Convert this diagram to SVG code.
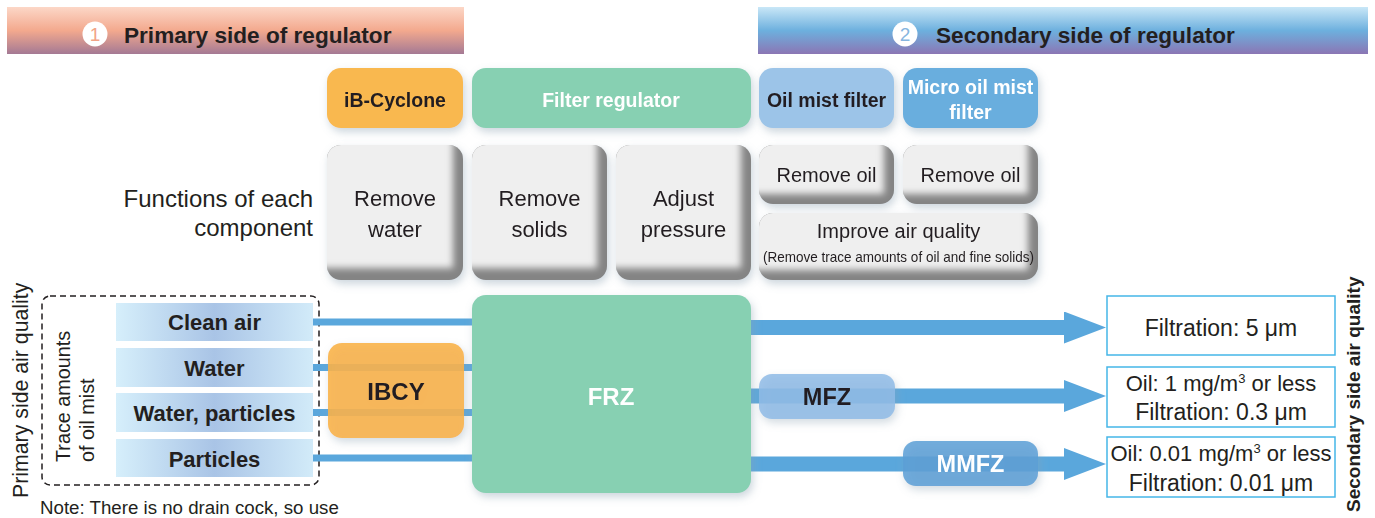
<svg xmlns="http://www.w3.org/2000/svg" width="1375" height="518" viewBox="0 0 1375 518">
<defs>
<style>
text{font-family:"Liberation Sans",Arial,Helvetica,sans-serif;fill:#231f20}
.b{font-weight:bold}
.w{fill:#ffffff}
.c{text-anchor:middle}
.hd{font-size:22.6px;font-weight:bold}
.top{font-size:19.5px;font-weight:bold;text-anchor:middle}
.fn{font-size:22px;text-anchor:middle}
.fo{font-size:20px;text-anchor:middle}
.row{font-size:22px;font-weight:bold;text-anchor:middle}
.big{font-size:24px;font-weight:bold;text-anchor:middle}
.res{font-size:22px;text-anchor:middle}
.res2{font-size:23px;text-anchor:middle}
.lane{stroke:#5aa7dc;stroke-width:7;fill:none}
.arr{stroke:#5aa7dc;stroke-width:15;fill:none;marker-end:url(#ah)}
.rbox{fill:#ffffff;stroke:#45b6e8;stroke-width:1.5}
.dark{fill:#848484}
.light{fill:#efefef}
</style>
<linearGradient id="g1" x1="0" y1="0" x2="0" y2="1">
<stop offset="0" stop-color="#fcd7c7"/><stop offset="0.5" stop-color="#f3a98e"/><stop offset="1" stop-color="#a47994"/>
</linearGradient>
<linearGradient id="g2" x1="0" y1="0" x2="0" y2="1">
<stop offset="0" stop-color="#c9e7f7"/><stop offset="0.5" stop-color="#6db0de"/><stop offset="1" stop-color="#8b76b4"/>
</linearGradient>
<linearGradient id="gr" x1="0" y1="0" x2="1" y2="0">
<stop offset="0" stop-color="#d6effb"/><stop offset="0.5" stop-color="#a9c4e6"/><stop offset="1" stop-color="#d2ebf9"/>
</linearGradient>
<filter id="sh" x="-20%" y="-20%" width="140%" height="150%">
<feGaussianBlur in="SourceAlpha" stdDeviation="4"/><feOffset dx="2" dy="4" result="b"/>
<feFlood flood-color="#8ea3b3" flood-opacity="0.45"/><feComposite in2="b" operator="in"/>
<feMerge><feMergeNode/><feMergeNode in="SourceGraphic"/></feMerge>
</filter>
<filter id="bv" x="-20%" y="-20%" width="140%" height="140%"><feGaussianBlur stdDeviation="3.5"/></filter>
<clipPath id="c1"><rect x="327" y="145" width="136" height="135" rx="14"/></clipPath>
<clipPath id="c2"><rect x="472" y="145" width="135" height="135" rx="14"/></clipPath>
<clipPath id="c3"><rect x="616" y="145" width="135" height="135" rx="14"/></clipPath>
<clipPath id="c4"><rect x="759" y="145" width="135" height="59" rx="14"/></clipPath>
<clipPath id="c5"><rect x="903" y="145" width="135" height="59" rx="14"/></clipPath>
<clipPath id="c6"><rect x="759" y="213" width="279" height="67" rx="14"/></clipPath>
<marker id="ah" markerUnits="userSpaceOnUse" markerWidth="44" markerHeight="34" refX="0" refY="16" orient="auto">
<path d="M0,0 L42,16 L0,32 Z" fill="#5aa7dc"/>
</marker>
</defs>

<g id="header-primary">
<rect x="7" y="7" width="457" height="47" fill="url(#g1)"/>
<circle cx="95" cy="34" r="12.5" fill="#ffffff"/>
<text x="95" y="41" class="c" style="font-size:19px;fill:#f2a487">1</text>
<text x="124" y="43" class="hd">Primary side of regulator</text>
</g>
<g id="header-secondary">
<rect x="758" y="7" width="610" height="47" fill="url(#g2)"/>
<circle cx="905" cy="34" r="12.5" fill="#ffffff"/>
<text x="905" y="41" class="c" style="font-size:19px;fill:#86b6e0">2</text>
<text x="936" y="43" class="hd">Secondary side of regulator</text>
</g>

<g id="label-functions">
<text x="313" y="207" style="font-size:24px;text-anchor:end">Functions of each</text>
<text x="313" y="236" style="font-size:24px;text-anchor:end">component</text>
</g>

<g id="comp-ibcyclone" filter="url(#sh)">
<rect x="327" y="68" width="136" height="60" rx="14" fill="#f9b84f"/>
<text x="395" y="107" class="top">iB-Cyclone</text>
</g>
<g id="comp-filter-regulator" filter="url(#sh)">
<rect x="472" y="68" width="279" height="60" rx="14" fill="#87d0b2"/>
<text x="611" y="107" class="top w">Filter regulator</text>
</g>
<g id="comp-oil-mist-filter" filter="url(#sh)">
<rect x="759" y="68" width="135" height="60" rx="14" fill="#9cc4e8"/>
<text x="826.5" y="107" class="top">Oil mist filter</text>
</g>
<g id="comp-micro-oil-mist-filter" filter="url(#sh)">
<rect x="903" y="68" width="135" height="60" rx="14" fill="#69aede"/>
<text x="970.5" y="94" class="top w">Micro oil mist</text>
<text x="970.5" y="119" class="top w">filter</text>
</g>

<g id="fn-remove-water" filter="url(#sh)">
<g clip-path="url(#c1)"><rect x="327" y="145" width="136" height="135" class="dark"/><rect x="317" y="135" width="136" height="133" class="light" filter="url(#bv)"/></g>
<text x="395" y="206" class="fn">Remove</text>
<text x="395" y="237" class="fn">water</text>
</g>
<g id="fn-remove-solids" filter="url(#sh)">
<g clip-path="url(#c2)"><rect x="472" y="145" width="135" height="135" class="dark"/><rect x="462" y="135" width="135" height="133" class="light" filter="url(#bv)"/></g>
<text x="539.5" y="206" class="fn">Remove</text>
<text x="539.5" y="237" class="fn">solids</text>
</g>
<g id="fn-adjust-pressure" filter="url(#sh)">
<g clip-path="url(#c3)"><rect x="616" y="145" width="135" height="135" class="dark"/><rect x="606" y="135" width="135" height="133" class="light" filter="url(#bv)"/></g>
<text x="683.5" y="206" class="fn">Adjust</text>
<text x="683.5" y="237" class="fn">pressure</text>
</g>
<g id="fn-remove-oil-1" filter="url(#sh)">
<g clip-path="url(#c4)"><rect x="759" y="145" width="135" height="59" class="dark"/><rect x="749" y="135" width="135" height="59" class="light" filter="url(#bv)"/></g>
<text x="826.5" y="182" class="fo">Remove oil</text>
</g>
<g id="fn-remove-oil-2" filter="url(#sh)">
<g clip-path="url(#c5)"><rect x="903" y="145" width="135" height="59" class="dark"/><rect x="893" y="135" width="135" height="59" class="light" filter="url(#bv)"/></g>
<text x="970.5" y="182" class="fo">Remove oil</text>
</g>
<g id="fn-improve-air" filter="url(#sh)">
<g clip-path="url(#c6)"><rect x="759" y="213" width="279" height="67" class="dark"/><rect x="749" y="203" width="279" height="67" class="light" filter="url(#bv)"/></g>
<text x="898.5" y="238" class="fo">Improve air quality</text>
<text x="898.5" y="262" class="c" style="font-size:15px" textLength="271" lengthAdjust="spacingAndGlyphs">(Remove trace amounts of oil and fine solids)</text>
</g>

<g id="primary-quality">
<text transform="translate(28,498) rotate(-90)" style="font-size:21.3px">Primary side air quality</text>
<rect x="42" y="296" width="277" height="189" rx="8" fill="none" stroke="#231f20" stroke-width="1.5" stroke-dasharray="6 4"/>
<text transform="translate(70,462) rotate(-90)" style="font-size:19.8px">Trace amounts</text>
<text transform="translate(94,462) rotate(-90)" style="font-size:19.8px">of oil mist</text>
</g>
<g id="row-clean-air"><rect x="116" y="303" width="197" height="38" fill="url(#gr)"/><text x="214.5" y="330" class="row">Clean air</text></g>
<g id="row-water"><rect x="116" y="348" width="197" height="39" fill="url(#gr)"/><text x="214.5" y="376" class="row">Water</text></g>
<g id="row-water-particles"><rect x="116" y="393" width="197" height="39" fill="url(#gr)"/><text x="214.5" y="421" class="row">Water, particles</text></g>
<g id="row-particles"><rect x="116" y="439" width="197" height="38" fill="url(#gr)"/><text x="214.5" y="467" class="row">Particles</text></g>

<g id="connectors">
<line x1="313" y1="322" x2="472" y2="322" class="lane"/>
<line x1="313" y1="367.5" x2="472" y2="367.5" class="lane"/>
<line x1="313" y1="412.5" x2="472" y2="412.5" class="lane"/>
<line x1="313" y1="458" x2="472" y2="458" class="lane"/>
<line x1="750" y1="327.5" x2="1064" y2="327.5" class="arr"/>
<line x1="750" y1="396" x2="1064" y2="396" class="arr"/>
<line x1="750" y1="464" x2="1064" y2="464" class="arr"/>
</g>

<g id="node-ibcy" filter="url(#sh)">
<rect x="328" y="343" width="136" height="95" rx="14" fill="#f9b243" fill-opacity="0.88"/>
<text x="396" y="400" class="big">IBCY</text>
</g>
<g id="node-frz" filter="url(#sh)">
<rect x="472" y="295" width="279" height="198" rx="14" fill="#87d0b2"/>
<text x="611" y="405" class="big w">FRZ</text>
</g>
<g id="node-mfz" filter="url(#sh)">
<rect x="759" y="374" width="136" height="45" rx="13" fill="#8fbbe6" fill-opacity="0.85"/>
<text x="827" y="405" class="big" style="font-size:23.5px">MFZ</text>
</g>
<g id="node-mmfz" filter="url(#sh)">
<rect x="903" y="441" width="135" height="45" rx="13" fill="#5a9fd6" fill-opacity="0.85"/>
<text x="970.5" y="472" class="big w" style="font-size:23.5px">MMFZ</text>
</g>

<g id="result-frz">
<rect x="1107" y="296" width="228" height="59" class="rbox"/>
<text x="1221" y="336" class="res2">Filtration: 5 μm</text>
</g>
<g id="result-mfz">
<rect x="1107" y="367" width="228" height="60" class="rbox"/>
<text x="1221" y="391" class="res">Oil: 1 mg/m<tspan dy="-8" style="font-size:13px">3</tspan><tspan dy="8"> or less</tspan></text>
<text x="1221" y="420" class="res2">Filtration: 0.3 μm</text>
</g>
<g id="result-mmfz">
<rect x="1107" y="437" width="228" height="60" class="rbox"/>
<text x="1221" y="461" class="res">Oil: 0.01 mg/m<tspan dy="-8" style="font-size:13px">3</tspan><tspan dy="8"> or less</tspan></text>
<text x="1221" y="491" class="res2">Filtration: 0.01 μm</text>
</g>
<g id="secondary-quality">
<text transform="translate(1360,512) rotate(-90)" class="b" style="font-size:19px">Secondary side air quality</text>
</g>

<g id="note">
<text x="40" y="514" style="font-size:18.7px">Note: There is no drain cock, so use</text>
</g>
</svg>
